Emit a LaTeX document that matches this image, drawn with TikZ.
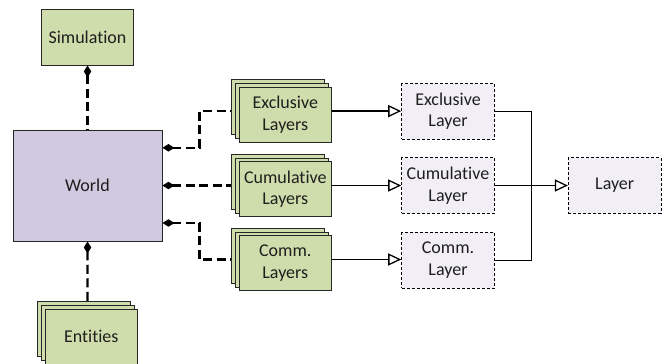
\documentclass[tikz,border=0pt]{standalone}
\usepackage{fontspec}
\setmainfont{Carlito}[Ligatures=NoCommon]
\usetikzlibrary{arrows.meta,calc,fit}

\definecolor{boxgreen}{RGB}{207,221,172}
\definecolor{worldpurple}{RGB}{209,201,224}
\definecolor{layerfill}{RGB}{241,239,245}
\definecolor{inkgray}{RGB}{30,30,30}

\tikzset{
  basebox/.style={draw=black!85, line width=0.9pt, align=center, inner sep=0pt,
    text=inkgray, font=\fontsize{18}{21.7}\selectfont},
  greenbox/.style={basebox, fill=boxgreen, minimum width=92.7pt, minimum height=55pt},
  worldbox/.style={basebox, fill=worldpurple, minimum width=149pt, minimum height=111pt},
  layerbox/.style={basebox, draw=black, line width=1pt, fill=layerfill,
    dash pattern=on 3pt off 2pt, minimum width=92.6pt, minimum height=55.6pt},
  ownership/.style={line width=2.2pt, dash pattern=on 9pt off 4.5pt,
    {Diamond[length=12pt,width=7.5pt,line width=0pt]}-},
  realize/.style={line width=1.3pt, -{Triangle[length=13pt,width=12pt,fill=white,line width=1.3pt]}},
  joinline/.style={line width=1.3pt},
}

% three stacked copies of a green box; #1 names the front box, #1g the whole stack
\newcommand\layerstack[3]{%
  \node[greenbox] (#1c) at ($(#2)+(-7.4,-7.4)$) {};
  \node[greenbox] (#1b) at ($(#2)+(-3.7,-3.7)$) {};
  \node[greenbox] (#1) at (#2) {#3};
  \node[fit=(#1c)(#1), inner sep=0pt] (#1g) {};
}

\begin{document}
\begin{tikzpicture}[x=1pt, y=-1pt]
\useasboundingbox (0,0) rectangle (665,364);

% classes
\node[greenbox, minimum height=56pt] (sim) at (87.5,37) {Simulation};
\node[worldbox] (world) at (87.5,185.5) {World};

\layerstack{excl}{285.3,114.8}{Exclusive\\Layers}
\layerstack{cum}{285.3,189.2}{Cumulative\\Layers}
\layerstack{comm}{285.3,263.2}{Comm.\\Layers}
\layerstack{ent}{91.3,336.8}{Entities}

\node[layerbox] (exclL) at (448,111.3) {Exclusive\\Layer};
\node[layerbox] (cumL) at (448,185.5) {Cumulative\\Layer};
\node[layerbox] (commL) at (448,260.2) {Comm.\\Layer};
\node[layerbox] (layer) at (614.7,185.5) {Layer};

% attachment points on the right side of the world
\coordinate (w1) at ($(world.north east)!0.163!(world.south east)$);
\coordinate (w3) at ($(world.north east)!0.835!(world.south east)$);

% compositions
\draw[ownership] (sim.south) -- (world.north);
\draw[ownership] (world.south) -- (entg.north);
\draw[ownership] (w1) -- ++(37,0) |- (exclg.west);
\draw[ownership] (world.east) -- (cumg.west);
\draw[ownership] (w3) -- ++(37,0) |- (commg.west);

% realizations
\draw[realize] (exclg.east) -- (exclg.east -| exclL.west);
\draw[realize] (cumg.east) -- (cumg.east -| cumL.west);
\draw[realize] (commg.east) -- (commg.east -| commL.west);

% generalization into Layer
\draw[joinline] (exclL.east) -- ++(37,0) |- (commL.east);
\draw[realize] (cumL.east) -- (layer.west);
\end{tikzpicture}
\end{document}
